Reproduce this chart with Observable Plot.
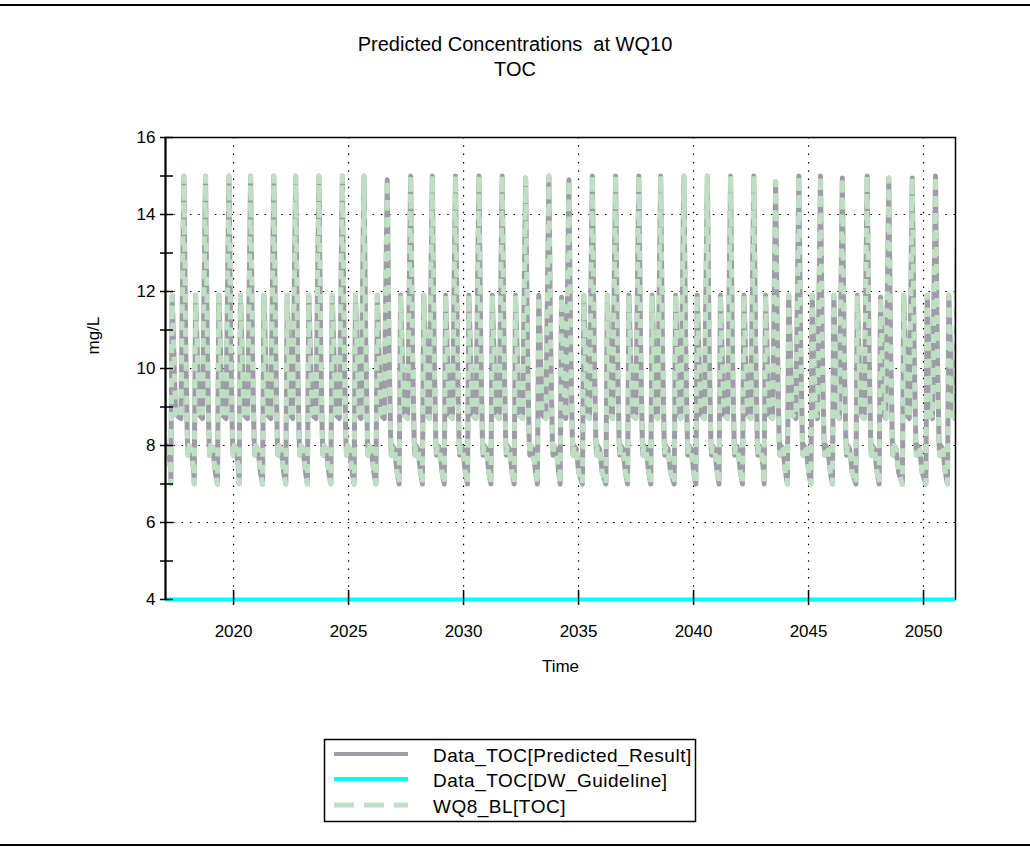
<!DOCTYPE html>
<html>
<head>
<meta charset="utf-8">
<script src="https://cdn.jsdelivr.net/npm/d3@7"></script>
<script src="https://cdn.jsdelivr.net/npm/@observablehq/plot@0.6"></script>
<style>
  html, body { margin: 0; padding: 0; background: #fff; }
  body { font-family: "Liberation Sans", Arial, sans-serif; color: #000; }
  #wrap { position: relative; width: 1030px; height: 850px; overflow: hidden; }
  .hr { position: absolute; left: 0; width: 1030px; height: 2px; background: #000; }
  #chart { position: absolute; left: 0; top: 0; }
  #title { position: absolute; left: 0; top: 32px; width: 1030px; text-align: center;
           font-size: 20px; line-height: 25px; white-space: pre; }
  #legend { position: absolute; left: 0; top: 0; }
</style>
</head>
<body>
<div id="wrap">
  <div class="hr" style="top:4px"></div>
  <div id="chart"></div>
  <div id="title"></div>
  <div id="legend"></div>
  <div class="hr" style="top:844px"></div>
</div>
<script>
// ---------------- data ----------------
const titleLines = ["Predicted Concentrations  at WQ10", "TOC"];
const yLabel = "mg/L";
const xLabel = "Time";
const seriesNames = ["Data_TOC[Predicted_Result]", "Data_TOC[DW_Guideline]", "WQ8_BL[TOC]"];

const xDomain = [2017.04, 2051.39];
const yDomain = [4, 16];
const xTicks = [2020, 2025, 2030, 2035, 2040, 2045, 2050];
const yTicks = [4, 6, 8, 10, 12, 14, 16];
const yMinorTicks = [5, 7, 9, 11, 13, 15];

// DW guideline (constant)
const guideline = 4;

// times of the secondary (~11.9) peaks each cycle
const riseTimes = [2017.33, 2018.35, 2019.36, 2020.30, 2021.32, 2022.33, 2023.27, 2024.29,
  2025.30, 2026.25, 2027.26, 2028.27, 2029.22, 2030.23, 2031.25, 2032.26, 2033.27, 2034.26,
  2035.23, 2036.25, 2037.19, 2038.20, 2039.22, 2040.16, 2041.17, 2042.19, 2043.13, 2044.14,
  2045.16, 2046.10, 2047.12, 2048.13, 2049.14, 2050.16, 2051.10];
const riseValues = [11.9, 11.9, 11.9, 11.9, 11.9, 11.9, 11.9, 11.9,
  11.9, 11.9, 11.9, 11.9, 11.9, 11.9, 11.9, 11.9, 11.9, 11.85,
  11.9, 11.9, 11.9, 11.9, 11.9, 11.9, 11.9, 11.9, 11.9, 11.9,
  11.9, 11.9, 11.9, 11.85, 11.9, 11.9, 11.9];
// times of the main (~15) peaks each cycle
const prePeakTime = 2016.85;
const peakTimes = [2017.84, 2018.78, 2019.80, 2020.74, 2021.75, 2022.70, 2023.71, 2024.73,
  2025.67, 2026.68, 2027.70, 2028.64, 2029.65, 2030.67, 2031.68, 2032.70, 2033.71, 2034.58,
  2035.60, 2036.61, 2037.62, 2038.57, 2039.58, 2040.60, 2041.61, 2042.62, 2043.57, 2044.58,
  2045.52, 2046.47, 2047.55, 2048.49, 2049.51, 2050.52, 2051.51];
const peakValues = [15.0, 15.0, 15.0, 15.0, 15.0, 15.0, 15.0, 15.0,
  15.0, 14.9, 15.0, 15.0, 15.0, 15.0, 15.0, 14.95, 15.0, 14.9,
  15.0, 15.0, 15.0, 15.0, 15.0, 15.0, 15.0, 15.0, 14.85, 15.0,
  15.0, 14.95, 15.0, 14.95, 14.95, 15.0, 15.0];
// levels within a cycle
const troughValue = 7.0, troughLead = 0.06;
const shoulderValue = 8.8, shoulderLag = 0.15;
const preRiseValue = 8.7, preRiseLead = 0.13;
const tailOffsets = [0.08, 0.15, 0.18, 0.22, 0.32, 0.43];
const tailValues  = [10.5, 8.2, 7.75, 8.0, 7.9, 7.3];

// ---------------- table ----------------
const series = [];
function pushTail(p) { tailOffsets.forEach((o, j) => series.push({t: p + o, v: tailValues[j]})); }
series.push({t: prePeakTime, v: 15.0});
pushTail(prePeakTime);
riseTimes.forEach((q, i) => {
  const p = peakTimes[i];
  series.push({t: q - troughLead, v: troughValue});
  series.push({t: q, v: riseValues[i]});
  series.push({t: q + shoulderLag, v: shoulderValue});
  series.push({t: p - preRiseLead, v: preRiseValue});
  series.push({t: p, v: peakValues[i]});
  pushTail(p);
});

// ---------------- layout ----------------
const W = 1030, H = 720;
const mTop = 137, mRight = 75, mBottom = 121, mLeft = 165;
const plotW = W - mLeft - mRight, plotH = H - mTop - mBottom;
const gray = "#9e9ca6", cyan = "#00ffff", green = "#bfdfc3";
const font = "Liberation Sans, Arial, sans-serif";
const dotted = {stroke: "#000", strokeOpacity: 1, strokeWidth: 1.2, strokeDasharray: "1.5,6.8"};

const chart = Plot.plot({
  width: W, height: H,
  marginTop: mTop, marginRight: mRight, marginBottom: mBottom, marginLeft: mLeft,
  style: {fontFamily: font, fontSize: "17px", color: "#000", background: "transparent", overflow: "visible"},
  x: {domain: xDomain},
  y: {domain: yDomain},
  marks: [
    Plot.gridY(yTicks.filter(d => d > yDomain[0] && d < yDomain[1]), dotted),
    Plot.gridX(xTicks, dotted),
    Plot.line(series, {x: "t", y: "v", stroke: gray, strokeWidth: 5, clip: true}),
    Plot.line(series, {x: "t", y: "v", stroke: green, strokeWidth: 5, strokeDasharray: "9,8",
      strokeLinecap: "butt", strokeLinejoin: "round", clip: true}),
    Plot.frame({stroke: "#000", strokeWidth: 1.5}),
    Plot.ruleY([guideline], {stroke: cyan, strokeWidth: 4}),
    Plot.ruleX([xDomain[0]], {stroke: "#000", strokeWidth: 2}),
    Plot.tickY(yTicks.concat(yMinorTicks), {y: d => d, insetLeft: -5, insetRight: plotW - 8, stroke: "#000", strokeWidth: 1.5}),
    Plot.tickX(xTicks, {x: d => d, insetTop: plotH - 9, insetBottom: -6, stroke: "#000", strokeWidth: 1.5}),
    Plot.axisY(yTicks, {tickSize: 0, tickPadding: 10, fontSize: 17, label: null}),
    Plot.axisX(xTicks, {tickSize: 0, tickPadding: 25, fontSize: 17, tickFormat: d => String(d), label: null}),
    Plot.text([yLabel], {text: d => d, frameAnchor: "left", rotate: -90, dx: -72, dy: -14, fontSize: 17}),
    Plot.text([xLabel], {text: d => d, frameAnchor: "bottom", dy: 72, fontSize: 17})
  ]
});
document.getElementById("chart").appendChild(chart);

// ---------------- title ----------------
document.getElementById("title").textContent = titleLines.join("\n");

// ---------------- legend ----------------
const lg = d3.select("#legend").append("svg").attr("width", W).attr("height", 850)
  .style("position", "absolute").style("left", "0px").style("top", "0px");
lg.append("rect").attr("x", 324.5).attr("y", 739.5).attr("width", 371).attr("height", 82)
  .attr("fill", "#fff").attr("stroke", "#000").attr("stroke-width", 1.5);
const legendStyles = [
  {stroke: gray, dash: null, width: 4},
  {stroke: cyan, dash: null, width: 4},
  {stroke: green, dash: "20,10", width: 5}
];
const rowY = [754, 779, 805];
seriesNames.forEach((name, i) => {
  const s = legendStyles[i];
  const ln = lg.append("line").attr("x1", 334).attr("x2", 408).attr("y1", rowY[i]).attr("y2", rowY[i])
    .attr("stroke", s.stroke).attr("stroke-width", s.width);
  if (s.dash) ln.attr("stroke-dasharray", s.dash);
  lg.append("text").attr("x", 433).attr("y", rowY[i] + 8)
    .attr("font-family", font).attr("font-size", 19).attr("letter-spacing", 0.5)
    .attr("fill", "#000").text(name);
});
</script>
</body>
</html>
